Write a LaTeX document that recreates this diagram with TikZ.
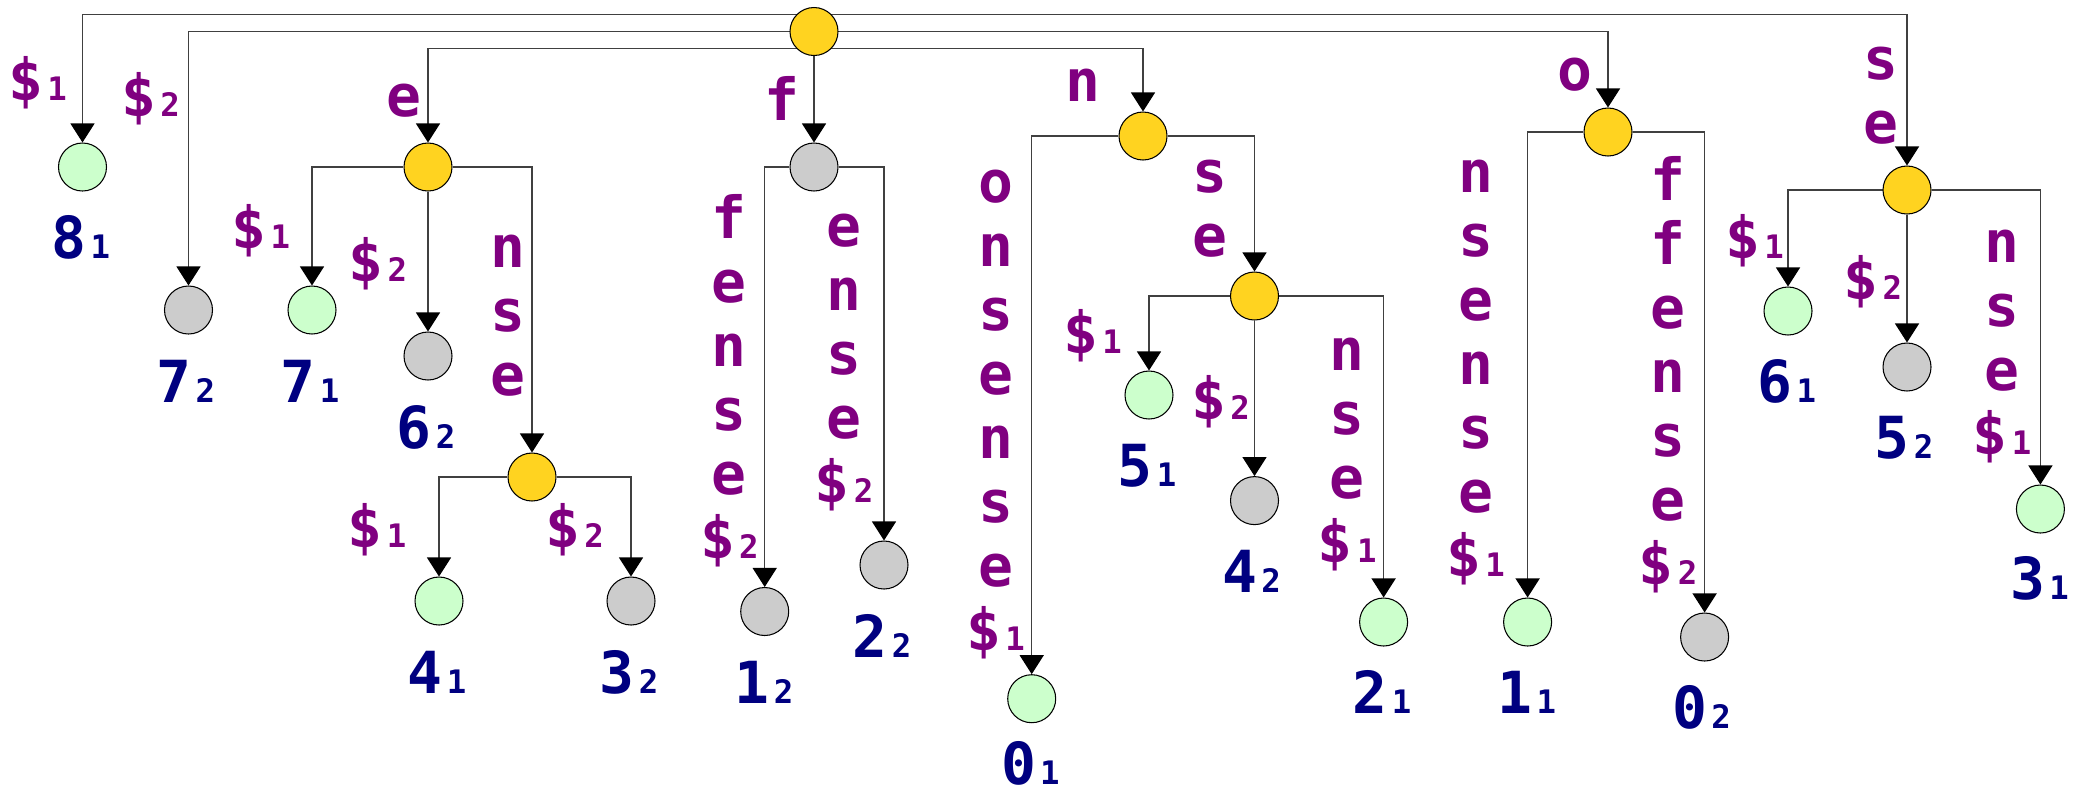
\documentclass[tikz,border=0pt]{standalone}
\usepackage{fontspec}
\usetikzlibrary{arrows.meta,calc}
\newfontfamily\treefont{DejaVu Sans Mono}
\definecolor{plum}{HTML}{800080}
\definecolor{navy}{HTML}{000080}
\definecolor{sun}{HTML}{FFD320}
\definecolor{mint}{HTML}{CCFFCC}
\definecolor{ash}{HTML}{CCCCCC}

% small index digit after a symbol
\newcommand\ix[1]{\kern1.2pt{\fontsize{9.2}{9.2}\selectfont#1}}
% letters of one edge label, written top to bottom
\newcommand\edgestack[4]{%
  \foreach \c [count=\i from 0] in {#4}
    \node[lbl] (#1-\i) at (#2,{#3+64*\i}) {\c};}

\pgfdeclarelayer{edges}
\pgfsetlayers{edges,main}

\begin{document}
\begin{tikzpicture}[x=0.1mm,y=-0.1mm,
  font=\treefont\bfseries\fontsize{16.5}{18}\selectfont,
  >={Triangle[width=2.4mm,length=1.9mm,color=black]},
  forknode/.style={circle,draw,line width=0.3pt,fill=sun,minimum size=4.8mm,inner sep=0pt},
  leafone/.style={forknode,fill=mint},
  leaftwo/.style={forknode,fill=ash},
  lbl/.style={text=plum,anchor=base,inner sep=0pt},
  num/.style={text=navy,anchor=base,inner sep=0pt},
  edge/.style={->,draw=black!75,line width=0.35pt}]
  \useasboundingbox (0,0) rectangle (2074,795);

  % branching nodes
  \node[forknode] (root) at (814,31.5) {};
  \node[forknode] (ne) at (428,167) {};
  \node[leaftwo]  (nf) at (814,167) {};
  \node[forknode] (nn) at (1143,136) {};
  \node[forknode] (no) at (1608,132) {};
  \node[forknode] (nse) at (1907,190) {};
  \node[forknode] (nnse) at (1254.5,296) {};
  \node[forknode] (nense) at (532,477) {};

  % leaves
  \node[leafone] (l8a) at (82.5,167) {};
  \node[leaftwo] (l7b) at (188.5,310) {};
  \node[leafone] (l7a) at (312,310) {};
  \node[leaftwo] (l6b) at (428,356) {};
  \node[leafone] (l4a) at (439,601) {};
  \node[leaftwo] (l3b) at (631,601) {};
  \node[leaftwo] (l1b) at (764.7,611.5) {};
  \node[leaftwo] (l2b) at (884,565) {};
  \node[leafone] (l0a) at (1031.7,698.7) {};
  \node[leafone] (l5a) at (1149,395) {};
  \node[leaftwo] (l4b) at (1254.5,500.6) {};
  \node[leafone] (l2a) at (1383.6,622) {};
  \node[leafone] (l1a) at (1527.6,622) {};
  \node[leaftwo] (l0b) at (1704.6,637) {};
  \node[leafone] (l6a) at (1788,311) {};
  \node[leaftwo] (l5b) at (1907,367) {};
  \node[leafone] (l3a) at (2040.4,509) {};

  % suffix numbers
  \node[num] (t8a) at (80.8,258.6) {8\ix1};
  \node[num] (t7b) at (185.8,402) {7\ix2};
  \node[num] (t7a) at (310,402) {7\ix1};
  \node[num] (t6b) at (426,448) {6\ix2};
  \node[num] (t4a) at (437,693.7) {4\ix1};
  \node[num] (t3b) at (629,693.7) {3\ix2};
  \node[num] (t1b) at (764,703.8) {1\ix2};
  \node[num] (t2b) at (882,657) {2\ix2};
  \node[num] (t0a) at (1030.4,784) {0\ix1};
  \node[num] (t5a) at (1147,486.8) {5\ix1};
  \node[num] (t4b) at (1251.5,592.3) {4\ix2};
  \node[num] (t2a) at (1382,713.3) {2\ix1};
  \node[num] (t1a) at (1526.7,713) {1\ix1};
  \node[num] (t0b) at (1701.5,728.8) {0\ix2};
  \node[num] (t6a) at (1786.7,402.3) {6\ix1};
  \node[num] (t5b) at (1904,458.8) {5\ix2};
  \node[num] (t3a) at (2039.5,599.7) {3\ix1};

  % edge labels
  \node[lbl] (e8a) at (37.5,100) {\$\ix1};
  \node[lbl] (e7b) at (150.5,116.6) {\$\ix2};
  \node[lbl] (ee) at (404,116.6) {e};
  \node[lbl] (ef) at (782.4,120) {f};
  \node[lbl] (en) at (1083.3,101.4) {n};
  \node[lbl] (eo) at (1574.8,90.6) {o};
  \edgestack{ese}{1880.7}{79.4}{s,e}
  \node[lbl] (e7a) at (260.8,248.5) {\$\ix1};
  \node[lbl] (e6b) at (377.8,281.6) {\$\ix2};
  \edgestack{ense}{508.4}{267}{n,s,e}
  \node[lbl] (e4a) at (377,547) {\$\ix1};
  \node[lbl] (e3b) at (574.6,547) {\$\ix2};
  \edgestack{e1b}{729.4}{238.3}{f,e,n,s,e,\$\ix2}
  \edgestack{e2b}{844}{246}{e,n,s,e,\$\ix2}
  \edgestack{e0a}{995.5}{202}{o,n,s,e,n,s,e,\$\ix1}
  \edgestack{ennse}{1210.4}{192.7}{s,e}
  \node[lbl] (e5a) at (1092.6,353.3) {\$\ix1};
  \node[lbl] (e4b) at (1220.6,419.2) {\$\ix2};
  \edgestack{e2a}{1347.2}{370.2}{n,s,e,\$\ix1}
  \edgestack{e1a}{1475.6}{192.7}{n,s,e,n,s,e,\$\ix1}
  \edgestack{e0b}{1668}{200}{f,f,e,n,s,e,\$\ix2}
  \node[lbl] (e6a) at (1754.5,258.6) {\$\ix1};
  \node[lbl] (e5b) at (1872.7,299.2) {\$\ix2};
  \edgestack{e3a}{2002}{262}{n,s,e,\$\ix1}

  \begin{pgfonlayer}{edges}
    % root: three levels of branches
    \draw[edge] ($(root.center)+(0,-17)$) -| (l8a);
    \draw[edge] ($(root.center)+(0,-17)$) -| (nse);
    \draw[edge] (root.center) -| (l7b);
    \draw[edge] (root.center) -| (no);
    \draw[edge] ($(root.center)+(0,17)$) -| (ne);
    \draw[edge] ($(root.center)+(0,17)$) -| (nn);
    \draw[edge] (root) -- (nf);
    % e
    \draw[edge] (ne) -| (l7a);
    \draw[edge] (ne) -- (l6b);
    \draw[edge] (ne) -| (nense);
    \draw[edge] (nense) -| (l4a);
    \draw[edge] (nense) -| (l3b);
    % f
    \draw[edge] (nf) -| (l1b);
    \draw[edge] (nf) -| (l2b);
    % n
    \draw[edge] (nn) -| (l0a);
    \draw[edge] (nn) -| (nnse);
    \draw[edge] (nnse) -| (l5a);
    \draw[edge] (nnse) -- (l4b);
    \draw[edge] (nnse) -| (l2a);
    % o
    \draw[edge] (no) -| (l1a);
    \draw[edge] (no) -| (l0b);
    % se
    \draw[edge] (nse) -| (l6a);
    \draw[edge] (nse) -- (l5b);
    \draw[edge] (nse) -| (l3a);
  \end{pgfonlayer}
\end{tikzpicture}
\end{document}
